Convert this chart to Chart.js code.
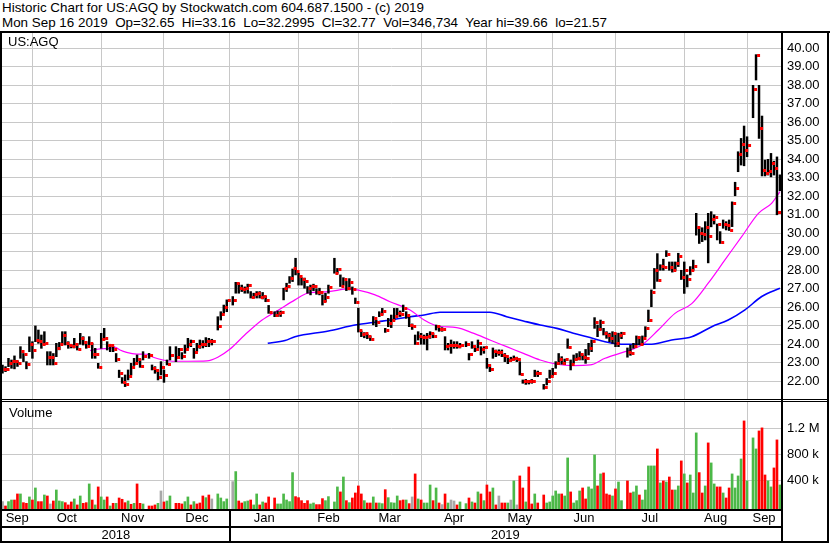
<!DOCTYPE html>
<html>
<head>
<meta charset="utf-8">
<title>US:AGQ historic chart</title>
<script src="https://cdn.jsdelivr.net/npm/chart.js@4.4.1/dist/chart.umd.min.js"></script>
<style>
  body { margin: 0; background: #fff; font-family: "Liberation Sans", Arial, sans-serif; color: #000; }
  #page { position: relative; width: 830px; height: 543px; overflow: hidden; background: #fff; }
  .hdr { position: absolute; left: 2px; font-size: 13.4px; line-height: 15px; white-space: pre; }
  .blk { position: absolute; background: #000; }
  .lbl { position: absolute; font-size: 13px; line-height: 15px; white-space: pre; }
  canvas { position: absolute; }
</style>
</head>
<body>
<div id="page">
  <div class="hdr" style="top:0">Historic Chart for US:AGQ by Stockwatch.com 604.687.1500 - (c) 2019</div>
  <div class="hdr" style="top:15px">Mon Sep 16 2019  Op=32.65  Hi=33.16  Lo=32.2995  Cl=32.77  Vol=346,734  Year hi=39.66  lo=21.57</div>

  <canvas id="price-chart" width="825" height="366" style="left:2px;top:33px"></canvas>
  <canvas id="volume-chart" width="825" height="125" style="left:2px;top:402px"></canvas>

  <!-- frame -->
  <div class="blk" style="left:0;top:31px;width:830px;height:2px"></div>
  <div class="blk" style="left:0;top:31px;width:2px;height:512px"></div>
  <div class="blk" style="left:827px;top:31px;width:2px;height:512px"></div>
  <div class="blk" style="left:0;top:541px;width:829px;height:2px"></div>
  <div class="blk" style="left:781px;top:33px;width:2px;height:508px"></div>
  <div class="blk" style="left:2px;top:399px;width:825px;height:1px"></div>
  <div class="blk" style="left:2px;top:401px;width:825px;height:1px"></div>
  <div class="blk" style="left:2px;top:509px;width:779px;height:2px"></div>
  <div class="blk" style="left:2px;top:526px;width:779px;height:2px"></div>

  <div class="lbl" style="left:8px;top:34px">US:AGQ</div>
  <div class="lbl" style="left:9px;top:405px">Volume</div>
  <div id="year-row"></div>
</div>

<script>
// one slot per weekday, Sep 17 2018 .. Sep 16 2019 (null = market holiday)
const highs = [
  22.88, 22.79, 23.24, 23.15, 23.37, 23.10, 23.87, 23.50, 23.06, 24.40,
  24.14, 24.99, 24.77, 24.50, 24.68, 23.60, 23.60, 23.50, 24.05, 24.10,
  24.68, 24.68, 24.14, 24.00, 24.32, 24.05, 24.59, 24.41, 24.14, 24.41,
  24.05, 23.78, 22.97, 24.59, 24.86, 24.14, 24.00, 23.87, 23.50, 22.60,
  22.20, 22.34, 22.61, 22.97, 23.24, 23.42, 23.20, 23.60, null, 23.51,
  22.88, 22.79, 22.61, 23.06, 22.61, 23.15, 23.87, null, 23.87, 23.78,
  23.55, 23.96, 24.32, 24.23, 23.78, 24.05, 24.23, 24.20, 24.36, 24.32,
  24.27, null, 25.49, 25.76, 26.12, 26.40, null, 26.58, 27.35, 27.30,
  27.20, 27.10, 27.25, 26.85, 26.76, 26.85, 26.85, 26.80, 26.60, 26.10,
  null, 25.76, 25.80, 25.80, 27.03, 27.30, 27.66, 28.07, 28.65, 27.84,
  27.60, 27.58, 27.12, 27.20, 27.25, 27.00, 27.03, 26.67, 26.76, 27.20,
  null, 28.65, 28.10, 27.75, 27.60, 27.40, 27.55, 27.10, 26.50, 25.95,
  24.72, 24.63, 24.55, 24.45, 25.50, 25.30, 25.76, 25.94, 24.86, 25.40,
  25.58, 25.94, 25.94, 25.80, 26.12, 25.76, 25.50, 25.10, 24.50, 24.68,
  24.59, 24.50, 24.59, 24.68, 24.60, 25.04, 25.00, 24.90, 24.41, 24.05,
  24.23, 24.14, 24.14, 24.05, null, 24.14, 23.50, 24.14, 23.90, 24.23,
  23.87, 23.87, 23.24, 22.90, 23.80, 23.69, 23.70, 23.69, 23.50, 23.24,
  23.30, 23.37, 23.30, 23.06, 22.07, 22.10, 22.05, 22.10, 22.60, 22.55,
  null, 21.83, 22.15, 22.60, 22.70, 23.06, 23.50, 23.33, 23.20, 24.29,
  23.15, 23.42, 23.50, 23.60, 23.42, 23.72, 24.05, 24.23, 25.44, 25.04,
  25.31, 24.86, 24.68, 24.60, 24.68, 24.60, 24.60, 24.65, null, 23.80,
  23.96, 24.05, 24.45, 24.41, 24.45, 24.95, 25.85, 26.94, 28.10, 28.90,
  28.30, 28.60, 29.06, 28.45, 28.45, 28.45, 28.92, 28.00, 28.45, 27.75,
  28.20, 28.55, 31.08, 30.35, 30.30, 30.63, 31.08, 31.17, 31.00, 30.50,
  30.09, 30.72, 30.63, 30.72, 31.70, 32.76, 34.41, 35.13, 35.80, 35.22,
  null, 38.00, 39.66, 38.00, 36.34, 33.96, 34.00, 34.32, 33.90, 34.13, 33.16
];
const lows = [
  22.43, 22.52, 22.79, 22.70, 22.67, 22.80, 23.24, 23.06, 22.67, 23.60,
  23.24, 24.14, 24.05, 23.78, 23.96, 22.88, 22.88, 22.88, 23.33, 23.70,
  24.00, 23.96, 23.78, 23.80, 23.80, 23.69, 24.00, 23.96, 23.78, 23.96,
  23.24, 23.24, 22.70, 23.78, 24.23, 23.69, 23.60, 23.60, 23.06, 22.20,
  21.89, 21.71, 22.07, 22.34, 22.85, 22.97, 22.75, 23.15, null, 23.24,
  22.61, 22.43, 22.07, 22.34, 21.94, 22.88, 23.15, null, 23.06, 23.24,
  23.20, 23.51, 23.78, 23.87, 23.24, 23.60, 23.78, 23.80, 23.87, 23.87,
  23.96, null, 24.77, 25.31, 25.67, 25.76, null, 26.12, 26.76, 26.76,
  26.85, 26.76, 26.76, 26.50, 26.50, 26.50, 26.50, 26.45, 26.30, 25.67,
  null, 25.49, 25.50, 25.50, 26.40, 26.85, 27.30, 27.39, 27.75, 27.20,
  27.20, 27.03, 26.76, 26.67, 26.90, 26.70, 26.67, 26.12, 26.30, 26.76,
  null, 27.84, 27.84, 27.12, 27.20, 26.90, 26.94, 26.70, 26.20, 24.66,
  24.41, 24.35, 24.30, 24.20, 25.05, 24.95, 25.49, 25.58, 24.64, 24.95,
  24.90, 25.31, 25.49, 25.50, 25.76, 25.40, 24.95, 24.80, 23.99, 24.23,
  24.00, 24.00, 23.69, 24.32, 24.35, 24.77, 24.70, 24.70, 23.69, 23.69,
  23.51, 23.78, 23.78, 23.80, null, 23.87, 23.15, 23.78, 23.60, 23.78,
  23.42, 23.51, 22.70, 22.52, 23.24, 23.33, 23.40, 23.33, 23.06, 22.95,
  23.06, 23.15, 23.06, 22.34, 21.89, 21.83, 21.85, 21.89, 22.25, 22.25,
  null, 21.57, 21.80, 22.16, 22.30, 22.70, 22.92, 22.92, 22.90, 23.78,
  22.61, 22.97, 23.15, 23.15, 23.15, 22.97, 23.42, 23.60, 24.86, 24.41,
  24.77, 24.50, 24.32, 24.14, 24.05, 23.87, 23.87, 24.30, null, 23.30,
  23.40, 23.78, 23.96, 23.96, 23.96, 24.41, 25.22, 26.03, 27.00, 27.40,
  28.00, 28.00, 28.74, 28.00, 27.90, 28.00, 28.20, 27.50, 26.75, 27.10,
  27.75, 28.00, 29.90, 29.45, 29.55, 29.64, 28.40, 30.35, 30.50, 29.64,
  29.45, 30.27, 30.18, 30.15, 30.36, 32.03, 33.33, 33.69, 33.65, 34.14,
  null, 36.25, 38.29, 35.13, 33.10, 33.10, 33.15, 33.05, 33.15, 31.00, 32.30
];
const closes = [
  22.63, 22.63, 22.97, 23.06, 23.06, 22.94, 23.60, 23.42, 22.88, 24.00,
  23.66, 24.20, 24.14, 23.96, 24.05, 23.30, 23.30, 22.94, 23.78, 23.96,
  24.47, 24.05, 23.93, 23.87, 23.96, 23.69, 24.32, 24.10, 23.87, 24.02,
  23.42, 23.45, 22.74, 24.27, 24.32, 23.93, 23.95, 23.69, 23.19, 22.40,
  21.94, 21.83, 22.25, 22.76, 22.97, 23.19, 22.79, 23.33, null, 23.37,
  22.70, 22.56, 22.20, 22.74, 22.32, 22.92, 23.37, null, 23.30, 23.73,
  23.33, 23.73, 24.00, 24.14, 23.57, 23.87, 23.96, 24.00, 24.14, 24.14,
  24.14, null, 24.95, 25.62, 26.00, 26.34, null, 26.34, 27.26, 27.03,
  26.94, 27.00, 27.20, 26.54, 26.67, 26.72, 26.54, 26.60, 26.39, 25.71,
  null, 25.58, 25.67, 25.72, 27.03, 27.12, 27.57, 28.07, 27.95, 27.66,
  27.48, 27.40, 27.03, 27.10, 27.15, 26.80, 26.79, 26.30, 26.52, 27.06,
  null, 27.84, 28.05, 27.12, 27.51, 27.03, 27.35, 26.94, 26.25, 24.72,
  24.54, 24.60, 24.41, 24.27, 25.40, 25.20, 25.62, 25.76, 24.77, 25.13,
  25.30, 25.50, 25.67, 25.60, 25.94, 25.53, 25.00, 24.95, 24.05, 24.41,
  24.36, 24.38, 24.41, 24.59, 24.41, 24.95, 24.81, 24.81, 23.87, 23.92,
  23.92, 23.92, 23.90, 23.95, null, 23.96, 23.42, 23.87, 23.70, 24.05,
  23.69, 23.80, 22.83, 22.61, 23.60, 23.55, 23.55, 23.40, 23.33, 23.10,
  23.15, 23.24, 23.15, 22.38, 21.98, 22.00, 21.98, 21.98, 22.43, 22.43,
  null, 21.67, 21.98, 22.25, 22.43, 22.97, 23.15, 22.98, 23.15, 23.82,
  22.88, 23.15, 23.24, 23.42, 23.28, 23.24, 23.78, 24.14, 25.17, 24.81,
  25.17, 24.56, 24.45, 24.30, 24.60, 24.05, 24.50, 24.56, null, 23.57,
  23.50, 23.90, 24.36, 24.00, 24.32, 24.83, 25.28, 26.79, 28.00, 27.44,
  28.23, 28.15, 28.86, 28.15, 28.00, 28.38, 28.74, 27.60, 28.00, 27.50,
  28.00, 28.23, 30.30, 30.00, 29.95, 30.30, 29.82, 30.75, 30.85, 30.45,
  29.49, 30.50, 30.40, 30.15, 31.62, 32.40, 34.27, 34.80, 34.50, 34.77,
  null, 37.75, 39.60, 35.64, 33.40, 33.24, 33.33, 33.75, 33.50, 31.10, 32.77
];
// volume in thousands of shares
const volumes = [
  72, 5, 72, 97, 97, 190, 190, 56, 46, 144,
  97, 282, 72, 72, 174, 159, 36, 82, 251, 82,
  72, 56, 21, 67, 113, 21, 159, 46, 56, 344,
  97, 21, 298, 144, 97, 144, 5, 46, 46, 128,
  108, 56, 82, 31, 46, 344, 46, 36, null, 5,
  5, 21, 46, 236, 67, 82, 159, null, 46, 46,
  36, 72, 144, 21, 72, 36, 51, 159, 133, 174,
  113, null, 190, 128, 72, 113, null, 380, 534, 82,
  51, 72, 82, 97, 21, 190, 21, 67, 51, 144,
  null, 128, 36, 36, 190, 97, 72, 518, 149, 133,
  87, 46, 87, 36, 51, 26, 26, 118, 87, 149,
  null, 67, 298, 221, 451, 87, 56, 128, 205, 313,
  190, 87, 51, 51, 144, 51, 51, 41, 256, 133,
  56, 51, 159, 87, 97, 97, 41, 144, 498, 113,
  97, 51, 51, 328, 87, 282, 51, 26, 190, 51,
  97, 82, 21, 67, null, 41, 128, 67, 51, 221,
  190, 87, 328, 221, 282, 21, 159, 51, 51, 51,
  97, 390, 21, 467, 282, 67, 605, 36, 190, 51,
  null, 174, 51, 67, 159, 236, 190, 190, 159, 744,
  221, 51, 87, 236, 282, 113, 298, 267, 790, 313,
  498, 513, 190, 174, 159, 267, 374, 87, null, 390,
  205, 221, 313, 174, 97, 251, 621, 621, 621, 882,
  359, 390, 374, 451, 251, 251, 313, 698, 498, 359,
  482, 205, 1129, 518, 205, 313, 975, 667, 344, 298,
  298, 205, 128, 282, 498, 282, 467, 728, 1313, 390,
  null, 1052, 882, 1159, 1206, 482, 390, 298, 590, 1021, 328
];
// 1 = up day, -1 = down day, 0 = unchanged
const volDir = [
  0, -1, 1, 1, -1, -1, 1, -1, -1, 1,
  -1, 1, -1, -1, 1, -1, 0, -1, 1, 1,
  1, -1, -1, -1, 1, -1, 1, -1, -1, 1,
  -1, 1, -1, 1, 1, -1, 1, -1, 1, -1,
  -1, -1, 1, -1, 1, -1, -1, 1, null, -1,
  -1, -1, 1, 0, -1, 1, 1, null, -1, -1,
  -1, 1, 1, -1, 1, -1, -1, -1, 1, -1,
  0, null, 1, 1, 1, 1, null, 0, 1, -1,
  -1, 1, 1, -1, 1, 1, -1, 1, -1, -1,
  null, -1, 1, 1, 1, 1, 1, 1, -1, -1,
  -1, -1, -1, 1, 1, -1, -1, -1, 1, 1,
  null, 1, 1, -1, 1, -1, 1, -1, -1, -1,
  -1, 1, -1, -1, 1, -1, 1, 1, -1, 1,
  1, 1, 1, -1, -1, 1, -1, 0, -1, 1,
  -1, 1, 1, 1, -1, 1, -1, 0, -1, 1,
  0, 0, -1, 1, null, 1, -1, 1, -1, 1,
  -1, 1, -1, -1, 1, -1, 0, -1, -1, 1,
  0, 1, 0, -1, -1, 1, -1, -1, 1, -1,
  null, -1, 1, 1, 1, 1, 1, -1, 1, 1,
  -1, 1, 1, 1, -1, -1, 1, 1, 1, -1,
  1, -1, -1, -1, 1, -1, 1, 1, null, -1,
  -1, 1, 1, -1, 1, 1, 1, 1, 1, -1,
  1, -1, 1, -1, -1, 1, 1, -1, 1, -1,
  1, 1, 1, -1, -1, 1, -1, 1, 1, -1,
  -1, 1, -1, -1, 1, 1, 1, 1, -1, 1,
  null, 1, 1, -1, -1, -1, 1, 1, -1, -1, 1
];

// moving averages (slot index, price)
const maShortIdx = [29.3, 32.6, 36, 37.6, 39.3, 41.5, 44.9, 48.2, 50.4, 53.7, 57, 62, 68.4, 72, 76, 81, 86.7, 92.3, 97.8, 102, 109, 115.7, 119, 124.6, 129.6, 136.3, 141, 145.2, 151.9, 157.4, 163, 168.6, 174.2, 179.8, 185.4, 190.9, 196.5, 201.5, 208.2, 213.8, 219.3, 224.9, 230.5, 236, 241.6, 247.2, 252.8, 257.2, 260];
const maShort = [23.66, 23.75, 23.78, 23.84, 23.69, 23.56, 23.47, 23.46, 23.30, 23.15, 23.08, 23.08, 23.10, 23.30, 23.73, 24.50, 25.30, 25.85, 26.40, 26.76, 26.85, 26.99, 26.93, 26.67, 26.30, 25.85, 25.31, 25.00, 24.90, 24.60, 24.23, 23.87, 23.51, 23.15, 22.92, 22.85, 22.88, 23.24, 23.60, 23.96, 24.77, 25.67, 26.20, 27.30, 28.56, 29.82, 31.08, 31.62, 32.25];
const maLongIdx = [88.7, 94.5, 97.8, 109, 117.9, 125.7, 129.6, 136.3, 141, 146.3, 163, 168.6, 174.2, 179.8, 185.4, 190.9, 196.5, 201.5, 208.2, 217.1, 223.8, 230.5, 237.2, 242.7, 248.3, 253.9, 260];
const maLong = [24.05, 24.20, 24.41, 24.72, 25.04, 25.22, 25.31, 25.49, 25.58, 25.73, 25.73, 25.49, 25.26, 25.04, 24.86, 24.59, 24.36, 24.14, 24.00, 24.00, 24.23, 24.41, 24.95, 25.31, 25.86, 26.58, 27.03];

// axis labels
const priceTicks = [22, 23, 24, 25, 26, 27, 28, 29, 30, 31, 32, 33, 34, 35, 36, 37, 38, 39, 40];
const volTicks = [400, 800, 1200];
const volTickLabels = ['400 k', '800 k', '1.2 M'];
const monthNames = ['Sep', 'Oct', 'Nov', 'Dec', 'Jan', 'Feb', 'Mar', 'Apr', 'May', 'Jun', 'Jul', 'Aug', 'Sep'];
const monthStart = [0, 10, 33, 54, 76, 99, 119, 140, 162, 184, 205, 228, 249];
const yearNames = ['2018', '2019'];
const yearStart = [0, 76];

// axis ranges
const X_MIN = -0.17, X_MAX = 260.35;
const PRICE_MIN = 21.04, PRICE_MAX = 40.83;
const VOL_MIN = -41.5, VOL_MAX = 1604;

const GRID = '#c8c8c8';
const FONT = { family: '"Liberation Sans", Arial, sans-serif', size: 13 };

Chart.defaults.font.family = FONT.family;
Chart.defaults.color = '#000';

const gridValues = monthStart.slice(1);
const monthMid = monthStart.map((s, k) => {
  const from = k === 0 ? X_MIN : s;
  const to = k === monthStart.length - 1 ? X_MAX : monthStart[k + 1];
  return (from + to) / 2;
});

// red close tick drawn just right of the high-low bar
function makeCloseTick() {
  const c = document.createElement('canvas');
  c.width = 10;
  c.height = 3;
  const g = c.getContext('2d');
  g.fillStyle = '#ff0000';
  g.fillRect(6, 0, 3, 3);
  return c;
}

function isGrid(ctx) {
  return ctx.tick && gridValues.includes(ctx.tick.value);
}

function xAxis(withLabels) {
  return {
    type: 'linear',
    min: X_MIN,
    max: X_MAX,
    offset: false,
    afterBuildTicks: scale => {
      const vals = withLabels ? gridValues.concat(monthMid) : gridValues.slice();
      vals.sort((a, b) => a - b);
      scale.ticks = vals.map(v => ({ value: v }));
    },
    afterFit: scale => {
      scale.height = withLabels ? 18 : 0;
      scale.paddingLeft = 0;
      scale.paddingRight = 0;
    },
    grid: {
      color: ctx => isGrid(ctx) ? GRID : 'rgba(0,0,0,0)',
      lineWidth: 1,
      drawTicks: false,
      offset: false
    },
    border: { display: false },
    ticks: {
      display: withLabels,
      autoSkip: false,
      maxRotation: 0,
      minRotation: 0,
      padding: 2,
      font: FONT,
      color: '#000',
      callback: value => {
        const k = monthMid.indexOf(value);
        return k >= 0 ? monthNames[k] : '';
      }
    }
  };
}

function rightAxis(min, max, ticks, labelFor) {
  return {
    type: 'linear',
    position: 'right',
    min: min,
    max: max,
    afterBuildTicks: scale => { scale.ticks = ticks.map(v => ({ value: v })); },
    afterFit: scale => {
      scale.width = 46;
      scale.paddingTop = 0;
      scale.paddingBottom = 0;
    },
    grid: { color: GRID, lineWidth: 1, drawTicks: false },
    border: { display: false },
    ticks: { padding: 6, font: FONT, color: '#000', callback: labelFor }
  };
}

const baseOptions = {
  responsive: false,
  animation: false,
  devicePixelRatio: 1,
  events: [],
  layout: { padding: 0, autoPadding: false },
  plugins: { legend: { display: false }, tooltip: { enabled: false } }
};

function createPriceChart() {
  const hl = [], cl = [];
  highs.forEach((h, i) => {
    if (h === null) return;
    hl.push({ x: i, y: [lows[i], h] });
    cl.push({ x: i, y: closes[i] });
  });
  const ctx = document.getElementById('price-chart').getContext('2d');
  return new Chart(ctx, {
    type: 'bar',
    data: {
      datasets: [
        {
          type: 'line',
          data: maShortIdx.map((x, k) => ({ x: x, y: maShort[k] })),
          borderColor: '#ff00ff',
          borderWidth: 1.2,
          pointRadius: 0,
          cubicInterpolationMode: 'monotone',
          order: 3
        },
        {
          type: 'line',
          data: maLongIdx.map((x, k) => ({ x: x, y: maLong[k] })),
          borderColor: '#0000ff',
          borderWidth: 1.6,
          pointRadius: 0,
          cubicInterpolationMode: 'monotone',
          order: 3
        },
        {
          data: hl,
          backgroundColor: '#000',
          barThickness: 1.8,
          grouped: false,
          order: 2
        },
        {
          type: 'scatter',
          data: cl,
          pointStyle: makeCloseTick(),
          pointRadius: 1,
          showLine: false,
          order: 1
        }
      ]
    },
    options: {
      ...baseOptions,
      scales: {
        x: xAxis(false),
        y: rightAxis(PRICE_MIN, PRICE_MAX, priceTicks, v => v.toFixed(2))
      }
    }
  });
}

function createVolumeChart() {
  const pts = [], colors = [];
  volumes.forEach((v, i) => {
    if (v === null) return;
    pts.push({ x: i, y: v });
    colors.push(volDir[i] > 0 ? '#4cb848' : volDir[i] < 0 ? '#ff0000' : '#a8a8a8');
  });
  const ctx = document.getElementById('volume-chart').getContext('2d');
  return new Chart(ctx, {
    type: 'bar',
    data: {
      datasets: [{
        data: pts,
        backgroundColor: colors,
        barThickness: 2,
        base: VOL_MIN,
        grouped: false
      }]
    },
    options: {
      ...baseOptions,
      scales: {
        x: xAxis(true),
        y: rightAxis(VOL_MIN, VOL_MAX, volTicks, v => volTickLabels[volTicks.indexOf(v)])
      }
    }
  });
}

function drawYearRow(chart) {
  const xs = chart.scales.x;
  const row = document.getElementById('year-row');
  const offset = 2; // canvas left
  yearStart.forEach((s, k) => {
    const left = k === 0 ? xs.left : xs.getPixelForValue(s);
    const right = k === yearStart.length - 1 ? xs.right : xs.getPixelForValue(yearStart[k + 1]);
    const lbl = document.createElement('div');
    lbl.className = 'lbl';
    lbl.textContent = yearNames[k];
    lbl.style.left = (left + offset) + 'px';
    lbl.style.width = (right - left) + 'px';
    lbl.style.textAlign = 'center';
    lbl.style.top = '527px';
    row.appendChild(lbl);
    if (k > 0) {
      const div = document.createElement('div');
      div.className = 'blk';
      div.style.left = (Math.round(left + offset) - 1) + 'px';
      div.style.top = '509px';
      div.style.width = '2px';
      div.style.height = '32px';
      row.appendChild(div);
    }
  });
}

createPriceChart();
const volumeChart = createVolumeChart();
drawYearRow(volumeChart);
</script>
</body>
</html>
